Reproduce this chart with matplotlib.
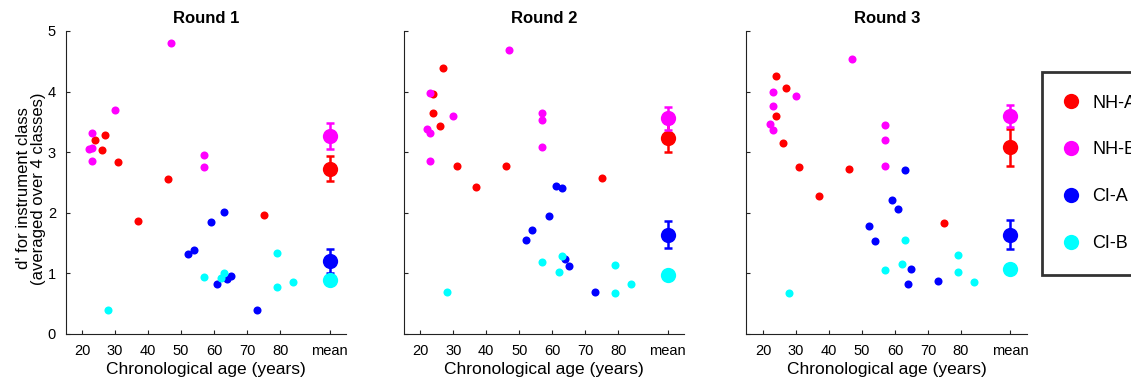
import numpy as np
import matplotlib
matplotlib.use("Agg")
import matplotlib.pyplot as plt
from matplotlib.lines import Line2D

plt.rcParams['font.family'] = ['Liberation Sans', 'DejaVu Sans']

groups = ['NH-A', 'NH-B', 'CI-A', 'CI-B']
colors = ['#ff0000', '#ff00ff', '#0000ff', '#00ffff']
rounds = ['Round 1', 'Round 2', 'Round 3']

# ages of the individual listeners, per round (only the visible points)
r1_ages = [
    [24, 27, 26, 31, 46, 37, 75],
    [47, 30, 23, 22, 23, 23, 57, 57],
    [63, 59, 54, 52, 61, 64, 65, 73],
    [28, 57, 62, 63, 79, 79, 84],
]
r2_ages = [
    [27, 24, 24, 26, 31, 46, 37, 75],
    [47, 23, 30, 22, 23, 23, 57, 57, 57],
    [61, 63, 59, 54, 52, 64, 65, 73],
    [28, 57, 63, 62, 79, 79, 84],
]
r3_ages = [
    [24, 27, 24, 26, 31, 46, 37, 75],
    [47, 23, 30, 23, 22, 23, 57, 57, 57],
    [63, 59, 61, 52, 54, 65, 64, 73],
    [28, 63, 62, 57, 79, 79, 84],
]

# d' values
r1_dprime = [
    [3.20, 3.29, 3.04, 2.83, 2.55, 1.86, 1.96],
    [4.80, 3.69, 3.31, 3.05, 3.07, 2.85, 2.96, 2.76],
    [2.02, 1.84, 1.39, 1.32, 0.83, 0.91, 0.96, 0.39],
    [0.40, 0.94, 0.93, 1.00, 1.33, 0.77, 0.85],
]
r2_dprime = [
    [4.39, 3.96, 3.64, 3.44, 2.78, 2.78, 2.43, 2.57],
    [4.69, 3.98, 3.60, 3.39, 3.31, 2.85, 3.64, 3.53, 3.09],
    [2.44, 2.41, 1.95, 1.71, 1.55, 1.24, 1.12, 0.69],
    [0.69, 1.19, 1.28, 1.02, 1.14, 0.67, 0.83],
]
r3_dprime = [
    [4.26, 4.06, 3.60, 3.15, 2.75, 2.73, 2.27, 1.83],
    [4.53, 3.99, 3.92, 3.76, 3.47, 3.36, 3.45, 3.20, 2.78],
    [2.71, 2.21, 2.07, 1.78, 1.53, 1.07, 0.83, 0.88],
    [0.67, 1.55, 1.16, 1.06, 1.30, 1.03, 0.85],
]

# group means and error bars
r1_mean = [2.73, 3.27, 1.21, 0.89]
r1_err = [0.21, 0.21, 0.20, 0.06]
r2_mean = [3.24, 3.56, 1.64, 0.97]
r2_err = [0.24, 0.19, 0.22, 0.06]
r3_mean = [3.08, 3.60, 1.64, 1.08]
r3_err = [0.30, 0.18, 0.24, 0.07]

mean_x = 95
xticks = [20, 30, 40, 50, 60, 70, 80, mean_x]
xticklabels = ['20', '30', '40', '50', '60', '70', '80', 'mean']

all_ages = [r1_ages, r2_ages, r3_ages]
all_d = [r1_dprime, r2_dprime, r3_dprime]
all_mean = [r1_mean, r2_mean, r3_mean]
all_err = [r1_err, r2_err, r3_err]

fig = plt.figure(figsize=(11.31, 3.85), dpi=100)
lefts = [0.058, 0.357, 0.660]

for i in range(3):
    ax = fig.add_axes([lefts[i], 0.1325, 0.248, 0.787])
    for g in range(4):
        ax.plot(all_ages[i][g], all_d[i][g], 'o', color=colors[g],
                markersize=5.8, markeredgewidth=0, zorder=2 + g)
    for g in range(4):
        # error bar first, then the big mean dot on top
        ax.errorbar(mean_x, all_mean[i][g], yerr=all_err[i][g], fmt='none',
                    ecolor=colors[g], elinewidth=1.8, capsize=3.2,
                    capthick=1.8, zorder=7 + 2 * g)
        ax.plot(mean_x, all_mean[i][g], 'o', color=colors[g],
                markersize=11, markeredgewidth=0, zorder=8 + 2 * g)
    ax.set_xlim(15, 100)
    ax.set_ylim(0, 5)
    ax.set_xticks(xticks)
    ax.set_xticklabels(xticklabels)
    ax.set_yticks([0, 1, 2, 3, 4, 5])
    ax.spines['top'].set_visible(False)
    ax.spines['right'].set_visible(False)
    for s in ['left', 'bottom']:
        ax.spines[s].set_linewidth(0.8)
        ax.spines[s].set_color('#222222')
    ax.tick_params(direction='in', length=3, width=0.8, labelsize=10.5,
                   colors='#222222', labelcolor='black', pad=7)
    ax.set_xlabel('Chronological age (years)', fontsize=12.5, labelpad=3)
    ax.set_title(rounds[i], fontsize=12, fontweight='bold', pad=6)
    if i == 0:
        ax.set_ylabel("d' for instrument class\n(averaged over 4 classes)",
                      fontsize=12, linespacing=1.0)
        ax.yaxis.set_label_coords(-0.07, 0.48)
    else:
        ax.set_yticklabels([])

handles = [Line2D([], [], marker='o', linestyle='none', color=c,
                  markersize=11, markeredgewidth=0) for c in colors]
leg = fig.legend(handles, groups, loc='upper left',
                 bbox_to_anchor=(0.921, 0.813), bbox_transform=fig.transFigure,
                 fontsize=13, frameon=True, fancybox=False, labelspacing=1.65,
                 borderpad=1.25, handlelength=0.7, handletextpad=0.85,
                 borderaxespad=0)
leg.get_frame().set_edgecolor('black')
leg.get_frame().set_linewidth(2)

fig.savefig('out.png', dpi=100)
